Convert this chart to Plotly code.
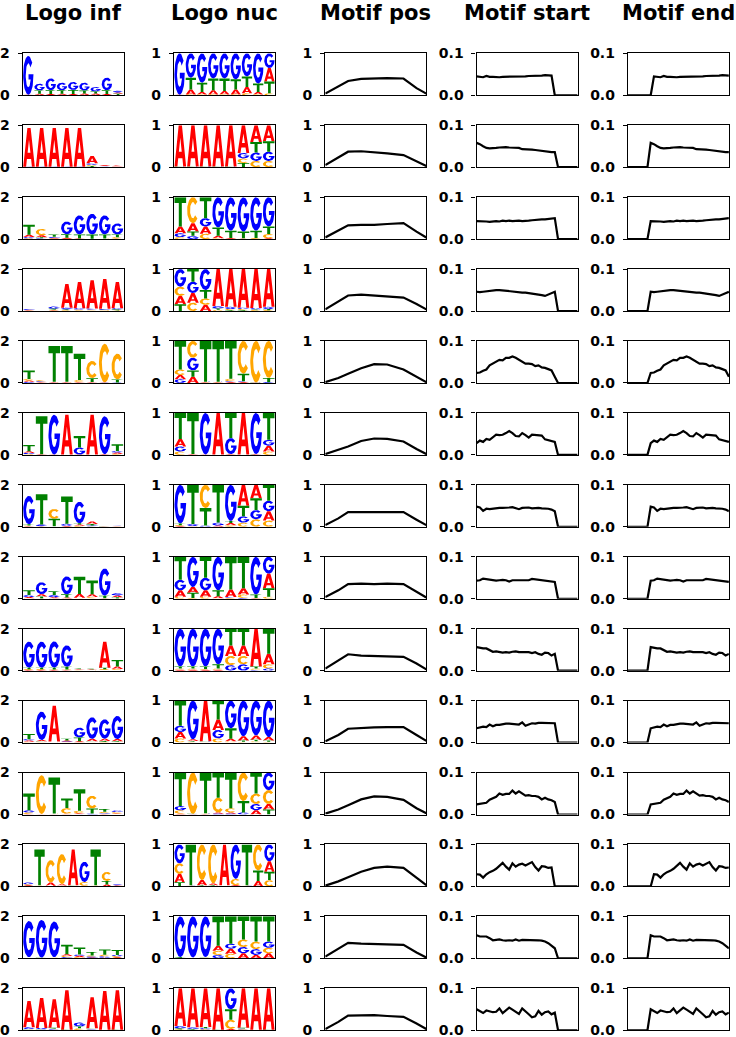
import numpy as np
import plotly.graph_objects as go

# ---------------- data ----------------
BASES = ["A", "C", "G", "T"]
BASE_COLORS = {"A": "#ff0000", "C": "#ffa500", "G": "#0000ff", "T": "#008000"}
column_titles = ["Logo inf", "Logo nuc", "Motif pos", "Motif start", "Motif end"]

seq_len = 32  # sequence positions 0..31

# position probability matrices, each row = one motif position, columns = A, C, G, T
motif_01 = [[.01, .0, .985, .005], [.12, .02, .58, .28], [.06, .02, .70, .22], [.10, .02, .60, .28],
            [.08, .02, .60, .30], [.12, .02, .62, .24], [.15, .05, .55, .25], [.06, .02, .72, .20],
            [.32, .05, .35, .28]]
motif_02 = [[.985, .005, .005, .005], [.985, .005, .005, .005], [.985, .005, .005, .005],
            [.985, .005, .005, .005], [.985, .005, .005, .005], [.66, .11, .13, .10],
            [.40, .15, .20, .25], [.38, .15, .22, .25]]
motif_03 = [[.16, .05, .09, .70], [.20, .62, .08, .10], [.17, .13, .20, .50], [.06, .02, .72, .20],
            [.02, .01, .80, .17], [.01, .01, .82, .16], [.01, .02, .80, .17], [.02, .10, .70, .18]]
motif_04 = [[.20, .22, .42, .16], [.23, .20, .27, .30], [.15, .15, .50, .20], [.88, .03, .06, .03],
            [.90, .03, .05, .02], [.92, .03, .03, .02], [.93, .02, .03, .02], [.90, .02, .05, .03]]
motif_05 = [[.10, .13, .09, .68], [.15, .40, .30, .15], [.01, .01, .01, .97], [.01, .01, .01, .97],
            [.02, .06, .02, .90], [.02, .78, .02, .18], [.005, .985, .005, .005], [.0, .88, .02, .10]]
motif_06 = [[.18, .08, .12, .62], [.01, .0, .01, .98], [.005, .0, .99, .005], [.99, .0, .005, .005],
            [.01, .01, .38, .60], [.99, .0, .005, .005], [.01, .0, .98, .01], [.14, .08, .14, .64]]
motif_07 = [[.02, .02, .92, .04], [.01, .01, .05, .93], [.0, .55, .03, .42], [.03, .0, .07, .90],
            [.05, .04, .86, .05], [.50, .10, .15, .25], [.32, .18, .22, .28], [.22, .15, .25, .38]]
motif_08 = [[.15, .05, .25, .55], [.14, .02, .72, .12], [.15, .05, .30, .50], [.05, .01, .80, .14],
            [.18, .02, .02, .78], [.15, .08, .02, .75], [.01, .01, .90, .08], [.35, .05, .40, .20]]
motif_09 = [[.02, .03, .90, .05], [.02, .03, .90, .05], [.02, .02, .90, .06], [.02, .03, .85, .10],
            [.25, .22, .13, .40], [.25, .20, .15, .40], [.90, .03, .02, .05], [.25, .10, .05, .60]]
motif_10 = [[.15, .10, .15, .60], [.04, .02, .92, .02], [.97, .01, .01, .01], [.25, .10, .20, .45],
            [.06, .03, .66, .25], [.10, .02, .85, .03], [.10, .03, .83, .04], [.08, .02, .87, .03]]
motif_11 = [[.02, .08, .10, .80], [.005, .985, .005, .005], [.01, .01, .01, .97], [.03, .35, .02, .60],
            [.03, .10, .02, .85], [.0, .68, .05, .27], [.10, .25, .15, .50], [.13, .33, .42, .12]]
motif_12 = [[.20, .25, .45, .10], [.01, .01, .01, .97], [.12, .85, .01, .02], [.04, .93, .01, .02],
            [.97, .01, .01, .01], [.02, .15, .82, .01], [.01, .01, .01, .97], [.13, .62, .0, .25],
            [.25, .15, .40, .20]]
motif_13 = [[.01, .0, .97, .02], [.005, .005, .98, .01], [.01, .01, .97, .01], [.12, .10, .08, .70],
            [.12, .11, .12, .65], [.12, .18, .15, .55], [.08, .18, .14, .60], [.12, .13, .15, .60]]
motif_14 = [[.90, .02, .06, .02], [.93, .01, .04, .02], [.92, .02, .03, .03], [.99, .0, .005, .005],
            [.03, .22, .50, .25], [.94, .02, .02, .02], [.985, .005, .005, .005], [.99, .0, .005, .005]]

motifs = [motif_01, motif_02, motif_03, motif_04, motif_05, motif_06, motif_07,
          motif_08, motif_09, motif_10, motif_11, motif_12, motif_13, motif_14]

# motif start probability at each admissible start position (0 .. seq_len - width)
start_01 = [.045, .044, .043, .046, .044, .044, .043, .043, .044, .044, .044, .044, .045, .045, .045, .045,
            .046, .046, .047, .047, .047, .048, .048, .047]
start_02 = [.058, .055, .050, .046, .045, .045, .046, .047, .048, .048, .047, .047, .046, .046, .043, .043,
            .042, .042, .041, .040, .039, .037, .036, .036, .036]
start_03 = [.043, .043, .042, .042, .041, .042, .043, .042, .044, .043, .044, .043, .044, .044, .043, .043,
            .044, .045, .046, .046, .047, .047, .048, .048, .050]
start_04 = [.046, .045, .046, .047, .048, .050, .050, .050, .049, .048, .047, .046, .045, .044, .044, .044,
            .043, .042, .041, .040, .038, .036, .039, .042, .046]
start_05 = [.024, .025, .029, .032, .042, .046, .050, .055, .054, .060, .060, .063, .060, .055, .050, .046,
            .046, .045, .040, .042, .037, .036, .033, .030, .015]
start_06 = [.028, .034, .031, .038, .036, .042, .048, .047, .048, .052, .057, .052, .045, .044, .052, .047,
            .041, .048, .047, .046, .046, .037, .035, .033, .031]
start_07 = [.048, .046, .038, .043, .042, .043, .045, .045, .045, .045, .046, .047, .044, .042, .045, .046,
            .046, .044, .045, .045, .044, .044, .043, .041, .037]
start_08 = [.043, .044, .048, .047, .045, .044, .043, .044, .045, .044, .041, .044, .044, .044, .044, .043,
            .044, .047, .046, .046, .045, .044, .043, .042, .040]
start_09 = [.056, .054, .053, .053, .049, .045, .046, .045, .043, .044, .043, .045, .046, .044, .044, .044,
            .044, .042, .044, .040, .038, .043, .042, .036, .040]
start_10 = [.034, .036, .038, .037, .043, .039, .042, .042, .044, .045, .045, .044, .044, .043, .048, .040,
            .043, .046, .045, .047, .047, .047, .047, .046, .046]
start_11 = [.024, .025, .027, .028, .035, .038, .042, .050, .047, .049, .049, .057, .050, .055, .050, .045,
            .046, .044, .044, .042, .036, .040, .036, .034, .030]
start_12 = [.029, .028, .021, .029, .034, .037, .042, .050, .056, .047, .040, .055, .047, .052, .054, .050,
            .054, .058, .046, .038, .048, .047, .044, .045]
start_13 = [.055, .052, .052, .052, .048, .043, .044, .045, .043, .042, .043, .042, .045, .042, .044, .044,
            .043, .043, .043, .043, .042, .040, .036, .030, .024]
start_14 = [.050, .046, .041, .047, .045, .043, .044, .052, .041, .047, .054, .049, .043, .039, .052, .046,
            .038, .031, .033, .046, .037, .043, .045, .038, .042]

starts = [start_01, start_02, start_03, start_04, start_05, start_06, start_07,
          start_08, start_09, start_10, start_11, start_12, start_13, start_14]

# motif coverage along the sequence, read at these positions
pos_x = [0, 4, 7, 11, 15, 19, 24, 28, 31]
pos_01 = [.04, .20, .34, .39, .40, .41, .40, .17, .04]
pos_02 = [.05, .23, .37, .38, .36, .33, .29, .14, .03]
pos_03 = [.04, .20, .33, .34, .34, .36, .38, .18, .04]
pos_04 = [.04, .22, .37, .39, .37, .35, .32, .17, .04]
pos_05 = [.02, .12, .22, .35, .45, .44, .32, .15, .02]
pos_06 = [.02, .12, .20, .33, .39, .38, .32, .14, .02]
pos_07 = [.04, .20, .35, .35, .36, .36, .35, .17, .04]
pos_08 = [.04, .20, .35, .36, .35, .36, .35, .17, .03]
pos_09 = [.05, .24, .39, .36, .35, .35, .33, .17, .03]
pos_10 = [.03, .18, .33, .35, .36, .37, .37, .18, .04]
pos_11 = [.02, .12, .22, .36, .43, .42, .35, .15, .03]
pos_12 = [.02, .12, .22, .35, .44, .47, .44, .20, .03]
pos_13 = [.04, .22, .37, .35, .34, .34, .32, .14, .02]
pos_14 = [.03, .20, .35, .36, .36, .34, .32, .16, .03]

positions = [pos_01, pos_02, pos_03, pos_04, pos_05, pos_06, pos_07,
             pos_08, pos_09, pos_10, pos_11, pos_12, pos_13, pos_14]

# ---------------- layout geometry (pixels) ----------------
W, H = 736, 1037
col_left = [22.7, 174.0, 325.3, 476.6, 627.9]
ax_w = 101.0
row_top0, row_step, ax_h = 53.3, 71.92, 42.0


# ---------------- glyphs (unit box) ----------------
def arc(rx, ry, a0, a1, n):
    t = np.radians(np.linspace(a0, a1, n))
    return list(zip(0.5 + rx * np.cos(t), 0.5 + ry * np.sin(t)))


GLYPHS = {
    "A": [(0, 0), (0.25, 0), (0.32, 0.2), (0.379, 0.36), (0.5, 0.70), (0.621, 0.36), (0.379, 0.36),
          (0.32, 0.2), (0.68, 0.2), (0.75, 0), (1, 0), (0.64, 1), (0.36, 1)],
    "T": [(0, 1), (1, 1), (1, 0.8), (0.63, 0.8), (0.63, 0), (0.37, 0), (0.37, 0.8), (0, 0.8)],
    "C": arc(0.5, 0.5, 40, 320, 40) + arc(0.25, 0.31, 320, 40, 40),
    "G": arc(0.5, 0.5, 40, 360, 44) + [(1.0, 0.53), (0.52, 0.53), (0.52, 0.39), (0.73, 0.39)]
         + arc(0.25, 0.31, 332, 40, 40),
}


def info_heights(prob):
    p = np.array(prob, dtype=float)
    p = p / p.sum(axis=1, keepdims=True)
    with np.errstate(divide="ignore", invalid="ignore"):
        ent = -np.nansum(np.where(p > 0, p * np.log2(p), 0.0), axis=1)
    ic = 2.0 - ent
    return p * ic[:, None]


def logo_traces(heights, xa, ya):
    polys = {b: ([], []) for b in BASES}
    for i, row in enumerate(heights):
        order = np.argsort(row)
        y0 = 0.0
        for j in order:
            h = row[j]
            if h > 0.004:
                b = BASES[j]
                xs, ys = polys[b]
                for (u, v) in GLYPHS[b]:
                    xs.append(i - 0.46 + 0.92 * u)
                    ys.append(y0 + h * v)
                xs.append(None)
                ys.append(None)
            y0 += h
    out = []
    for b in BASES:
        xs, ys = polys[b]
        out.append(go.Scatter(x=xs, y=ys, mode="lines", fill="toself", fillcolor=BASE_COLORS[b],
                              line=dict(width=0, color=BASE_COLORS[b]), hoverinfo="skip",
                              showlegend=False, xaxis=xa, yaxis=ya))
    return out


fig = go.Figure()
layout = {}
tickfont = dict(family="DejaVu Sans", size=14, color="black", weight="bold")

for r in range(14):
    prob = motifs[r]
    width = len(prob)
    st = starts[r]
    n_start = seq_len - width + 1
    start_y = list(st) + [0.0] * (seq_len - n_start)
    end_y = [0.0] * (width - 1) + list(st)
    xs_full = list(range(seq_len))
    top = row_top0 + r * row_step
    ydom = [1 - (top + ax_h) / H, 1 - top / H]
    for c in range(5):
        k = r * 5 + c + 1
        xa = "x" if k == 1 else f"x{k}"
        ya = "y" if k == 1 else f"y{k}"
        xdom = [col_left[c] / W, (col_left[c] + ax_w) / W]
        if c == 0:
            for t in logo_traces(info_heights(prob), xa, ya):
                fig.add_trace(t)
            xr, yr, tv, tt = [-0.5, width - 0.5], [0, 2], [0, 2], ["0", "2"]
        elif c == 1:
            p = np.array(prob, dtype=float)
            p = p / p.sum(axis=1, keepdims=True)
            for t in logo_traces(p, xa, ya):
                fig.add_trace(t)
            xr, yr, tv, tt = [-0.5, width - 0.5], [0, 1], [0, 1], ["0", "1"]
        else:
            if c == 2:
                xx, yy = pos_x, positions[r]
                yr, tv, tt = [0, 1], [0, 1], ["0", "1"]
            elif c == 3:
                xx, yy = xs_full, start_y
                yr, tv, tt = [0, 0.1], [0, 0.1], ["0.0", "0.1"]
            else:
                xx, yy = xs_full, end_y
                yr, tv, tt = [0, 0.1], [0, 0.1], ["0.0", "0.1"]
            fig.add_trace(go.Scatter(x=xx, y=yy, mode="lines", line=dict(color="black", width=2.2),
                                     hoverinfo="skip", showlegend=False, xaxis=xa, yaxis=ya))
            xr = [0, seq_len - 1]
        xkey = "xaxis" if k == 1 else f"xaxis{k}"
        ykey = "yaxis" if k == 1 else f"yaxis{k}"
        layout[xkey] = dict(domain=xdom, range=xr, anchor=ya, showline=True, mirror=True,
                            linecolor="black", linewidth=1.3, showgrid=False, zeroline=False,
                            showticklabels=False, ticks="", fixedrange=True, automargin=False)
        layout[ykey] = dict(domain=ydom, range=yr, anchor=xa, showline=True, mirror=True,
                            linecolor="black", linewidth=1.3, showgrid=False, zeroline=False,
                            tickvals=tv, ticktext=tt, ticks="outside", ticklen=4, tickwidth=1.3,
                            tickcolor="black", tickfont=tickfont, fixedrange=True, automargin=False,
                            ticklabelstandoff=5, ticklabeloverflow="allow")

annotations = []
for c, title in enumerate(column_titles):
    annotations.append(dict(text=title, x=(col_left[c] + ax_w / 2) / W, y=1, xref="paper", yref="paper",
                            xanchor="center", yanchor="top", yshift=0, borderpad=0, showarrow=False,
                            font=dict(family="DejaVu Sans", size=21, color="black", weight="bold")))

fig.update_layout(width=W, height=H, margin=dict(l=0, r=0, t=0, b=0, autoexpand=False),
                  plot_bgcolor="white", paper_bgcolor="white", showlegend=False,
                  annotations=annotations, **layout)

fig.write_html("out.html")
